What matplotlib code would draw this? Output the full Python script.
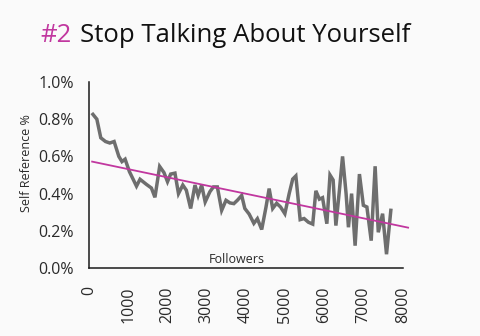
import matplotlib
matplotlib.use("Agg")
import matplotlib.pyplot as plt

plt.rcParams['font.family'] = ['Open Sans', 'DejaVu Sans']

# self reference % vs followers
followers = [100, 200, 300, 420, 530, 640, 760, 840, 920, 1030,
             1210, 1300, 1460, 1590, 1680, 1800, 1910, 2000, 2080, 2190,
             2280, 2390, 2480, 2590, 2700, 2780, 2870, 2960, 3080, 3170,
             3270, 3380, 3490, 3590, 3690, 3780, 3890, 3970, 4080, 4200,
             4290, 4400, 4510, 4590, 4680, 4780, 4880, 4990, 5100, 5190,
             5270, 5380, 5480, 5590, 5700, 5780, 5870, 5950, 6060, 6140,
             6220, 6290, 6380, 6460, 6550, 6610, 6690, 6780, 6890, 6990,
             7080, 7190, 7290, 7370, 7480, 7580, 7690]
self_ref = [0.826, 0.80, 0.70, 0.68, 0.672, 0.68, 0.60, 0.572, 0.585, 0.518,
            0.44, 0.477, 0.45, 0.43, 0.38, 0.546, 0.513, 0.464, 0.505, 0.51,
            0.40, 0.446, 0.418, 0.32, 0.446, 0.39, 0.446, 0.355, 0.41, 0.436,
            0.436, 0.31, 0.364, 0.35, 0.346, 0.364, 0.39, 0.32, 0.29, 0.24,
            0.265, 0.207, 0.328, 0.427, 0.32, 0.348, 0.328, 0.292, 0.40, 0.478,
            0.495, 0.26, 0.266, 0.246, 0.236, 0.415, 0.37, 0.378, 0.238, 0.50,
            0.473, 0.228, 0.418, 0.60, 0.40, 0.219, 0.40, 0.12, 0.505, 0.337,
            0.328, 0.147, 0.547, 0.192, 0.292, 0.074, 0.31]

trend_x = [80, 8130]
trend_y = [0.572, 0.217]

yticks = [0.0, 0.2, 0.4, 0.6, 0.8, 1.0]
ytick_labels = ['0.0%', '0.2%', '0.4%', '0.6%', '0.8%', '1.0%']
xticks = [0, 1000, 2000, 3000, 4000, 5000, 6000, 7000, 8000]

magenta = '#c1379f'

fig = plt.figure(figsize=(4.8, 3.36), dpi=100, facecolor='#fafafa')
ax = fig.add_axes([89 / 480, 1 - 268 / 336, (403 - 89) / 480, (268 - 82) / 336])
ax.set_facecolor('none')

ax.plot(followers, self_ref, color='#6e6e6e', lw=2.5, solid_joinstyle='miter', zorder=2)
ax.plot(trend_x, trend_y, color=magenta, lw=1.3, zorder=3, clip_on=False)

ax.set_xlim(0, 8000)
ax.set_ylim(0, 1.0)
for s in ['top', 'right']:
    ax.spines[s].set_visible(False)
for s in ['left', 'bottom']:
    ax.spines[s].set_color('#1a1a1a')
    ax.spines[s].set_linewidth(1.1)

ax.set_yticks(yticks)
ax.set_yticklabels(ytick_labels)
ax.set_xticks(xticks)
ax.set_xticklabels([str(v) for v in xticks], rotation=90)
ax.tick_params(axis='y', length=0, pad=11, labelsize=11.5, labelcolor='#2a2a2a')
ax.tick_params(axis='x', length=0, pad=13, labelsize=11.5, labelcolor='#2a2a2a')

ax.text(0.47, 0.045, 'Followers', transform=ax.transAxes, ha='center', va='center',
        fontsize=9, color='#2a2a2a')
fig.text(27 / 480, 1 - 163 / 336, 'Self Reference %', rotation=90, ha='center', va='center',
         fontsize=9, color='#2a2a2a')

# title in two colours
r = fig.canvas.get_renderer()
t1 = fig.text(40 / 480, 1 - 42 / 336, '#2', fontsize=18.5, color=magenta, va='baseline')
bb = t1.get_window_extent(renderer=r)
fig.text(bb.x1 / 480 + 9 / 480, 1 - 42 / 336, 'Stop Talking About Yourself', fontsize=18.5,
         color='#111111', va='baseline')

fig.savefig('out.png', dpi=100, facecolor=fig.get_facecolor())
